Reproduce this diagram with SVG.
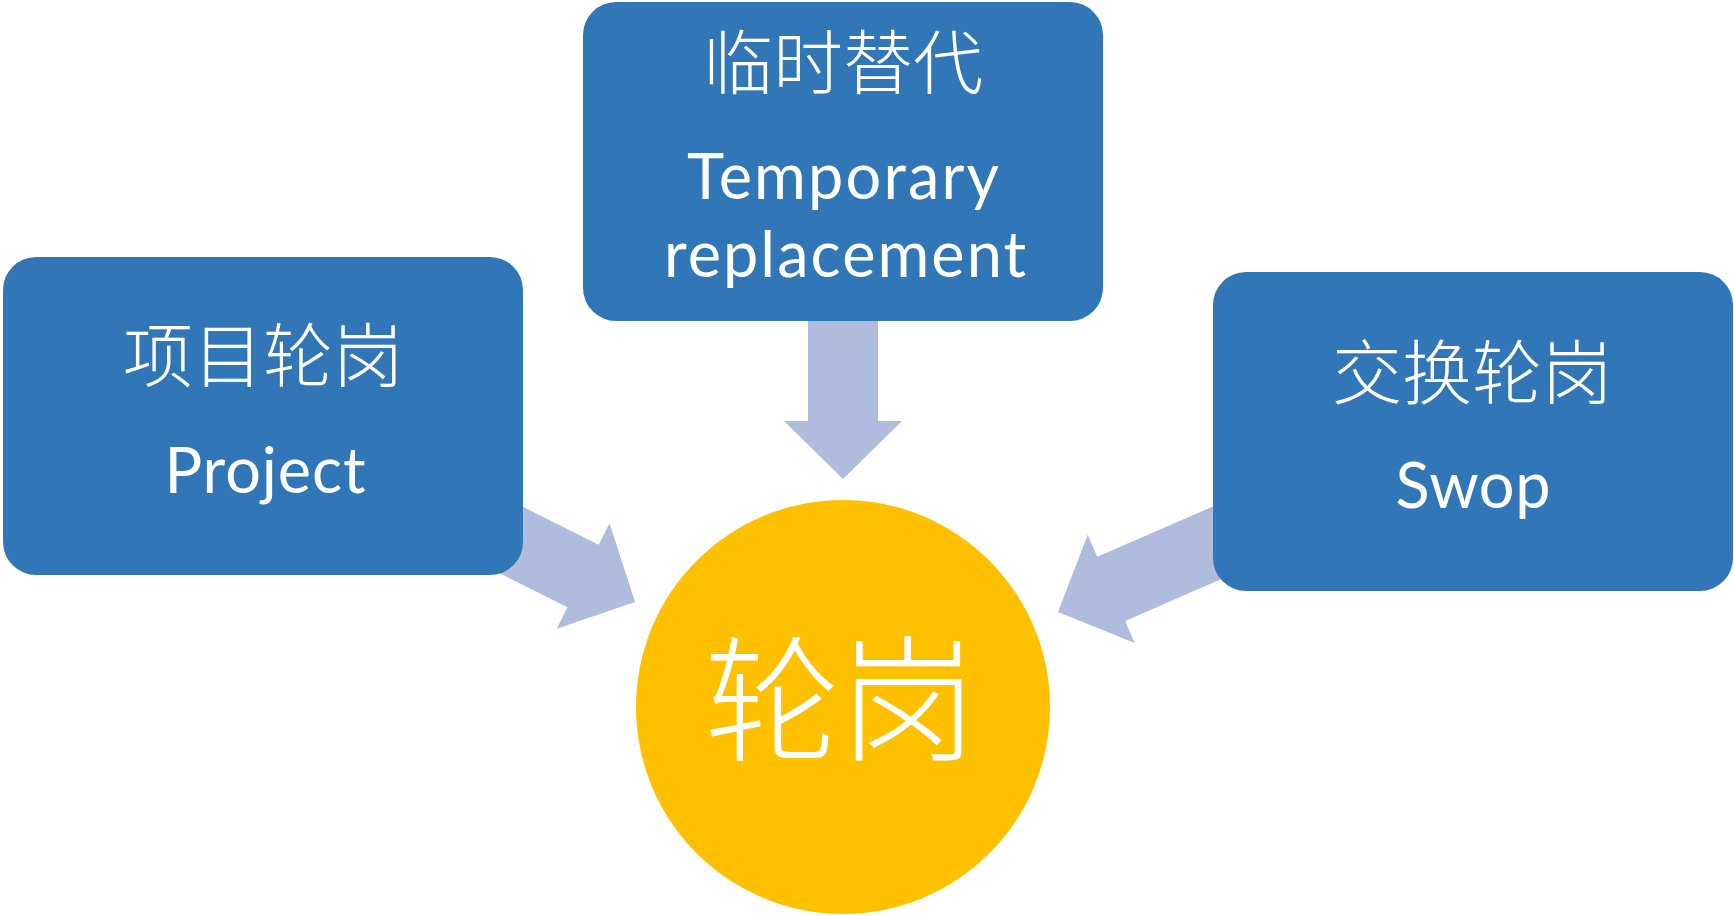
<svg xmlns="http://www.w3.org/2000/svg" width="1734" height="916" viewBox="0 0 1734 916">
  <style>
    .box { fill: #3176B6; }
    .arrow { fill: #AFBCDD; }
    .hub { fill: #FFC000; }
    .zh { font-family: "Noto Sans CJK SC", sans-serif; font-weight: 300; fill: #FFFFFF; text-anchor: middle; }
    .en { font-family: Lato, "Open Sans", sans-serif; font-size: 63px; fill: #FFFFFF; text-anchor: middle; }
  </style>
  <defs>
    <polygon id="arrowShape" points="-200,-35 -58,-35 -58,-59 0,0 -58,59 -58,35 -200,35"/>
  </defs>
  <rect width="1734" height="916" fill="#FFFFFF"/>
  <g id="connectors">
    <use href="#arrowShape" class="arrow" transform="translate(843,479) rotate(90)"/>
    <use href="#arrowShape" class="arrow" transform="translate(635,602) rotate(26.57)"/>
    <use href="#arrowShape" class="arrow" transform="translate(1058,612) rotate(156.5)"/>
  </g>
  <g id="node-project">
    <rect class="box" x="3" y="257" width="520" height="318" rx="33" ry="33"/>
    <text class="zh" x="263" y="382" font-size="70">项目轮岗</text>
    <text class="en" x="265" y="493" textLength="201" lengthAdjust="spacing">Project</text>
  </g>
  <g id="node-temporary">
    <rect class="box" x="583" y="2" width="520" height="319" rx="33" ry="33"/>
    <text class="zh" x="843" y="89" font-size="70">临时替代</text>
    <text class="en" x="843" y="199" textLength="312" lengthAdjust="spacing">Temporary</text>
    <text class="en" x="845" y="277" textLength="362" lengthAdjust="spacing">replacement</text>
  </g>
  <g id="node-swop">
    <rect class="box" x="1213" y="272" width="520" height="319" rx="33" ry="33"/>
    <text class="zh" x="1472" y="399" font-size="70">交换轮岗</text>
    <text class="en" x="1473" y="508" textLength="155" lengthAdjust="spacing">Swop</text>
  </g>
  <g id="node-rotation">
    <circle class="hub" cx="843" cy="707" r="207"/>
    <text class="zh" x="840" y="751" font-size="136">轮岗</text>
  </g>
</svg>
